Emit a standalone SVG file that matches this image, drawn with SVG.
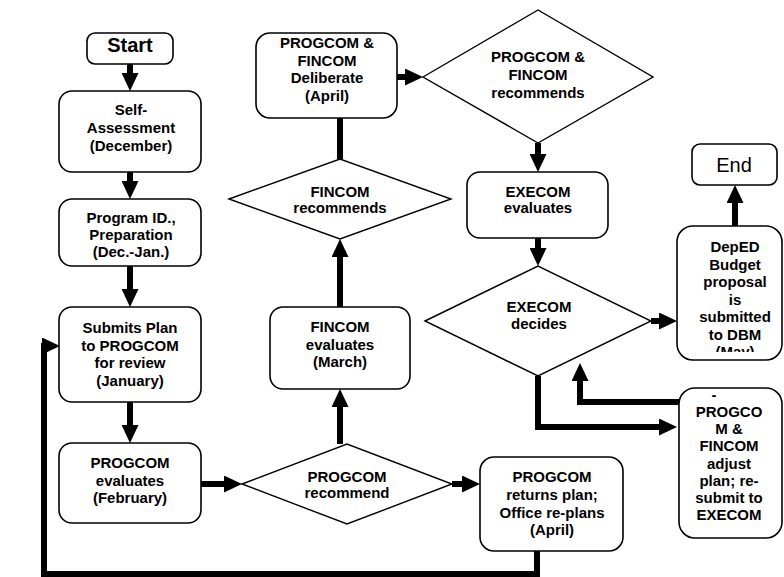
<svg xmlns="http://www.w3.org/2000/svg" width="784" height="577" viewBox="0 0 784 577">
<style>
.box{fill:#fff;stroke:#000;stroke-width:1.6}
.dia{fill:#fff;stroke:#000;stroke-width:1.4}
.t{font-family:"Liberation Sans",Arial,sans-serif;font-weight:bold;font-size:15px;text-anchor:middle;fill:#000}
.big{font-size:20px}
.end{font-weight:normal;font-size:20px}
.c{fill:none;stroke:#000;stroke-width:6;stroke-linejoin:miter}
.ca{marker-end:url(#ah)}
</style>
<defs>
<marker id="ah" markerUnits="userSpaceOnUse" markerWidth="18" markerHeight="17" refX="3" refY="8.5" orient="auto" viewBox="0 0 18 17"><path d="M0,0 L18,8.5 L0,17 z" fill="#000"/></marker>
<clipPath id="clipDep"><rect x="677" y="226" width="110" height="126"/></clipPath>
</defs>
<rect width="784" height="577" fill="#fff"/>
<g id="connectors">
<path class="c ca" d="M130,64 V76"/>
<path class="c ca" d="M130,172 V184"/>
<path class="c ca" d="M130,266 V292"/>
<path class="c ca" d="M130,402 V428"/>
<path class="c ca" d="M201,484 H227"/>
<path class="c ca" d="M452,484 H465"/>
<path class="c ca" d="M340,444 V404"/>
<path class="c ca" d="M340,307 V254"/>
<path class="c" d="M340,159 V118"/>
<path class="c ca" d="M397,77 H408"/>
<path class="c ca" d="M538,143 V157"/>
<path class="c ca" d="M538,238 V251"/>
<path class="c ca" d="M651,321 H662"/>
<path class="c ca" d="M735,226 V200"/>
<path class="c ca" d="M538,376 V427 H662"/>
<path class="c ca" d="M679,402 H580 V378"/>
<path class="c ca" d="M537,551 V574 H44 V346 H45"/>
</g>
<g id="start">
<rect class="box" x="87" y="33" width="86" height="31" rx="8"/>
<text class="t big" x="130" y="52">Start</text>
</g>
<g id="self-assessment">
<rect class="box" x="59" y="91" width="142" height="81" rx="13"/>
<text class="t" x="131" y="115">Self-</text>
<text class="t" x="131" y="133">Assessment</text>
<text class="t" x="131" y="151">(December)</text>
</g>
<g id="program-id">
<rect class="box" x="59" y="199" width="142" height="67" rx="13"/>
<text class="t" x="131" y="223">Program ID.,</text>
<text class="t" x="131" y="240">Preparation</text>
<text class="t" x="131" y="257">(Dec.-Jan.)</text>
</g>
<g id="submits-plan">
<rect class="box" x="59" y="307" width="142" height="95" rx="13"/>
<text class="t" x="130" y="333">Submits Plan</text>
<text class="t" x="130" y="350.5">to PROGCOM</text>
<text class="t" x="130" y="368">for review</text>
<text class="t" x="130" y="385.5">(January)</text>
</g>
<g id="progcom-evaluates">
<rect class="box" x="59" y="443" width="142" height="80" rx="13"/>
<text class="t" x="130" y="468">PROGCOM</text>
<text class="t" x="130" y="486">evaluates</text>
<text class="t" x="130" y="503">(February)</text>
</g>
<g id="progcom-recommend">
<polygon class="dia" points="242,484 347,444 452,484 347,524"/>
<text class="t" x="347" y="482">PROGCOM</text>
<text class="t" x="347" y="498">recommend</text>
</g>
<g id="progcom-returns">
<rect class="box" x="480" y="457" width="143" height="94" rx="14"/>
<text class="t" x="552" y="482">PROGCOM</text>
<text class="t" x="552" y="500">returns plan;</text>
<text class="t" x="552" y="518">Office re-plans</text>
<text class="t" x="552" y="535">(April)</text>
</g>
<g id="fincom-evaluates">
<rect class="box" x="270" y="307" width="140" height="82" rx="13"/>
<text class="t" x="340" y="332">FINCOM</text>
<text class="t" x="340" y="350">evaluates</text>
<text class="t" x="340" y="367">(March)</text>
</g>
<g id="fincom-recommends">
<polygon class="dia" points="229,199 340,159 451,199 340,239"/>
<text class="t" x="340" y="197">FINCOM</text>
<text class="t" x="340" y="213">recommends</text>
</g>
<g id="deliberate">
<rect class="box" x="256" y="33" width="141" height="85" rx="14"/>
<text class="t" x="327" y="48">PROGCOM &amp;</text>
<text class="t" x="327" y="65.5">FINCOM</text>
<text class="t" x="327" y="83">Deliberate</text>
<text class="t" x="327" y="100.5">(April)</text>
</g>
<g id="progcom-fincom-recommends">
<polygon class="dia" points="423,77 538,10 653,77 538,143"/>
<text class="t" x="538" y="62">PROGCOM &amp;</text>
<text class="t" x="538" y="80">FINCOM</text>
<text class="t" x="538" y="98">recommends</text>
</g>
<g id="execom-evaluates">
<rect class="box" x="467" y="172" width="141" height="66" rx="13"/>
<text class="t" x="538" y="197">EXECOM</text>
<text class="t" x="538" y="213">evaluates</text>
</g>
<g id="execom-decides">
<polygon class="dia" points="425,321 538,266 651,321 538,376"/>
<text class="t" x="539" y="312">EXECOM</text>
<text class="t" x="539" y="329">decides</text>
</g>
<g id="end">
<rect class="box" x="692" y="144" width="85" height="41" rx="8"/>
<text class="t end" x="734" y="172">End</text>
</g>
<g id="deped-budget">
<rect class="box" x="677" y="226" width="105" height="134" rx="16"/>
<g clip-path="url(#clipDep)">
<text class="t" x="735" y="252">DepED</text>
<text class="t" x="735" y="269.5">Budget</text>
<text class="t" x="735" y="287">proposal</text>
<text class="t" x="735" y="304.5">is</text>
<text class="t" x="735" y="322">submitted</text>
<text class="t" x="735" y="339.5">to DBM</text>
<text class="t" x="735" y="357">(May)</text>
</g>
</g>
<g id="adjust-plan">
<rect class="box" x="679" y="388" width="103" height="150" rx="16"/>
<text class="t" x="714" y="400">-</text>
<text class="t" x="729" y="417">PROGCO</text>
<text class="t" x="729" y="434">M &amp;</text>
<text class="t" x="729" y="451">FINCOM</text>
<text class="t" x="729" y="468.5">adjust</text>
<text class="t" x="729" y="486">plan; re-</text>
<text class="t" x="729" y="503">submit to</text>
<text class="t" x="729" y="520">EXECOM</text>
</g>
</svg>
